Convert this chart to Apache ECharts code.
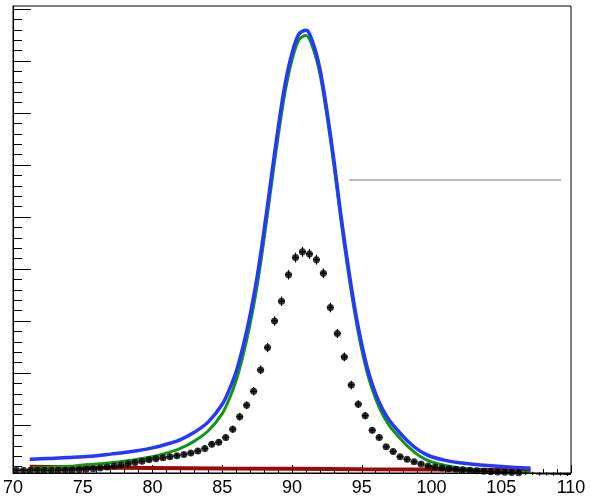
<!DOCTYPE html>
<html><head><meta charset="utf-8">
<script src="https://cdn.jsdelivr.net/npm/echarts@6/dist/echarts.min.js"></script>
<style>html,body{margin:0;padding:0;background:#fff}#c{width:591px;height:500px}</style>
</head><body><div id="c"></div>
<script>
// x tick labels
const xTickLabels = [70,75,80,85,90,95,100,105,110];
// y ticks (labels hidden in reference)
const yMajorTicks = [10,20,30,40,50,60,70,80,90];
const yMinorTicks = [2,4,6,8,12,14,16,18,22,24,26,28,32,34,36,38,42,44,46,48,52,54,56,58,62,64,66,68,72,74,76,78,82,84,86,88,90];

// data points (bin centers, contents, errors)
const binCenters = [70.25,70.75,71.25,71.75,72.25,72.75,73.25,73.75,74.25,74.75,
  75.25,75.75,76.25,76.75,77.25,77.75,78.25,78.75,79.25,79.75,
  80.25,80.75,81.25,81.75,82.25,82.75,83.25,83.75,84.25,84.75,
  85.25,85.75,86.25,86.75,87.25,87.75,88.25,88.75,89.25,89.75,
  90.25,90.75,91.25,91.75,92.25,92.75,93.25,93.75,94.25,94.75,
  95.25,95.75,96.25,96.75,97.25,97.75,98.25,98.75,99.25,99.75,
  100.25,100.75,101.25,101.75,102.25,102.75,103.25,103.75,104.25,104.75,
  105.25,105.75,106.25,106.75,107.25,107.75,108.25,108.75,109.25,109.75];
const counts = [1.3,1.3,1.3,1.3,1.3,1.25,1.3,1.3,1.35,1.4,
  1.5,1.6,1.75,1.9,2.1,2.3,2.55,2.8,3.05,3.3,
  3.5,3.7,3.9,4.1,4.35,4.6,5.0,5.5,6.3,6.7,
  7.6,9.2,11.6,13.8,16.5,20.6,24.9,30.0,33.8,38.9,
  42.2,43.3,42.9,41.8,39.2,32.6,27.6,23.1,17.7,14.0,
  11.8,9.0,7.6,5.8,4.9,3.9,3.4,2.95,2.5,2.1,
  1.9,1.75,1.6,1.5,1.4,1.3,1.2,1.1,1.0,0.95,
  0.9,0.85,0.8,0.75,0.7,0.6,0.6,0.55,0.55,0.5];
const errors = [0.3,0.3,0.3,0.3,0.3,0.3,0.3,0.3,0.3,0.3,
  0.3,0.3,0.32,0.33,0.35,0.36,0.38,0.4,0.41,0.43,
  0.44,0.45,0.46,0.47,0.48,0.5,0.52,0.55,0.58,0.6,
  0.63,0.68,0.73,0.78,0.82,0.86,0.88,0.9,0.92,0.93,
  0.94,0.95,0.95,0.94,0.92,0.9,0.87,0.84,0.8,0.74,
  0.7,0.64,0.6,0.55,0.52,0.48,0.45,0.43,0.4,0.38,
  0.36,0.35,0.34,0.33,0.32,0.31,0.3,0.3,0.3,0.3,
  0.3,0.3,0.3,0.3,0.3,0.3,0.3,0.3,0.3,0.3];

// fitted curves
const curveX = [71.2,72,73,74,75,76,77,78,79,80,81,82,83,84,85,85.5,86,86.5,87,87.5,88,88.5,89,89.5,90,90.5,91,91.5,92,92.5,93,93.5,94,94.5,95,95.5,96,96.5,97,97.5,98,98.5,99,99.5,100,101,102,103,104,105,106,107.1];
const blueY = [3.4,3.5,3.6,3.75,3.9,4.1,4.4,4.7,5.1,5.6,6.3,7.2,8.6,10.6,14.0,16.8,20.3,25.2,31.2,38.5,47.5,57.3,67,75.5,81.5,85.2,85.9,83.5,78.5,70.5,61,50.5,41,32.5,25.5,20,16,13,10.8,9.2,7.7,6.4,5.3,4.5,3.9,3.2,2.75,2.45,2.2,2.0,1.85,1.75];
const greenY = [1.7,1.8,1.9,2.05,2.3,2.5,2.75,3.05,3.45,3.9,4.6,5.5,6.9,8.9,12.2,15.0,18.6,23.5,29.5,36.8,45.8,55.7,65.4,74,80.2,84.1,84.9,82.5,77.5,69.5,60,49.5,40,31.5,24.5,19,15,12,9.8,8.2,6.7,5.4,4.3,3.5,2.9,2.2,1.75,1.45,1.2,1.05,0.95,0.85];
const redX = [71.2,75,80,85,90,95,100,105,107.1];
const redY = [1.95,1.85,1.75,1.65,1.6,1.5,1.45,1.35,1.3];
// grey horizontal segment
const greyX = [94.1,109.3];
const greyY = [57.1,57.1];

const zip = (a,b)=>a.map((v,i)=>[v,b[i]]);
const pts = binCenters.map((x,i)=>[x,counts[i],errors[i]]);

const chart = echarts.init(document.getElementById('c'), null, {renderer:'canvas'});
chart.setOption({
  animation:false,
  backgroundColor:'#fff',
  grid:{left:3,right:20,top:6,bottom:27,show:true,borderColor:'#000',borderWidth:1,backgroundColor:'transparent'},
  xAxis:{type:'value',min:70,max:110,interval:5,
    axisLine:{show:true,lineStyle:{color:'#000',width:1}},
    axisTick:{show:true,inside:true,length:8,lineStyle:{color:'#000'},customValues:xTickLabels},
    minorTick:{show:true,splitNumber:5,length:4,lineStyle:{color:'#000'}},
    axisLabel:{show:true,color:'#000',fontSize:18,fontFamily:'Liberation Sans',margin:6,customValues:xTickLabels},
    splitLine:{show:false}},
  yAxis:[
    {type:'value',min:0.77,max:90.58,position:'left',
     axisLine:{show:true,lineStyle:{color:'#000',width:1}},
     axisTick:{show:true,inside:true,length:18,lineStyle:{color:'#000'},customValues:yMajorTicks},
     axisLabel:{show:false},splitLine:{show:false}},
    {type:'value',min:0.77,max:90.58,position:'left',
     axisLine:{show:false},
     axisTick:{show:true,inside:true,length:9,lineStyle:{color:'#000'},customValues:yMinorTicks},
     axisLabel:{show:false},splitLine:{show:false}}
  ],
  series:[
    {type:'line',data:zip(greyX,greyY),symbol:'none',lineStyle:{color:'#bbbbbb',width:2},z:1},
    {type:'line',data:zip(redX,redY),symbol:'none',lineStyle:{color:'#9a0a0a',width:4},z:2},
    {type:'line',data:zip(curveX,greenY),symbol:'none',smooth:0.35,lineStyle:{color:'#129612',width:3},z:3},
    {type:'line',data:zip(curveX,blueY),symbol:'none',smooth:0.35,lineStyle:{color:'#2438ff',width:3.5},z:4},
    {type:'custom',data:pts,z:5,renderItem:function(params,api){
      const x=api.value(0),y=api.value(1),e=api.value(2);
      const l=api.coord([x-0.25,y]),r=api.coord([x+0.25,y]);
      const t=api.coord([x,y+e]),b=api.coord([x,y-e]);
      return {type:'group',children:[
        {type:'line',shape:{x1:l[0],y1:l[1],x2:r[0],y2:r[1]},style:{stroke:'#000',lineWidth:1.2}},
        {type:'line',shape:{x1:t[0],y1:t[1],x2:b[0],y2:b[1]},style:{stroke:'#000',lineWidth:1.2}}
      ]};
    }},
    {type:'scatter',data:pts.map(p=>[p[0],p[1]]),symbol:'circle',symbolSize:7,itemStyle:{color:'#000'},z:6}
  ]
});
</script></body></html>
